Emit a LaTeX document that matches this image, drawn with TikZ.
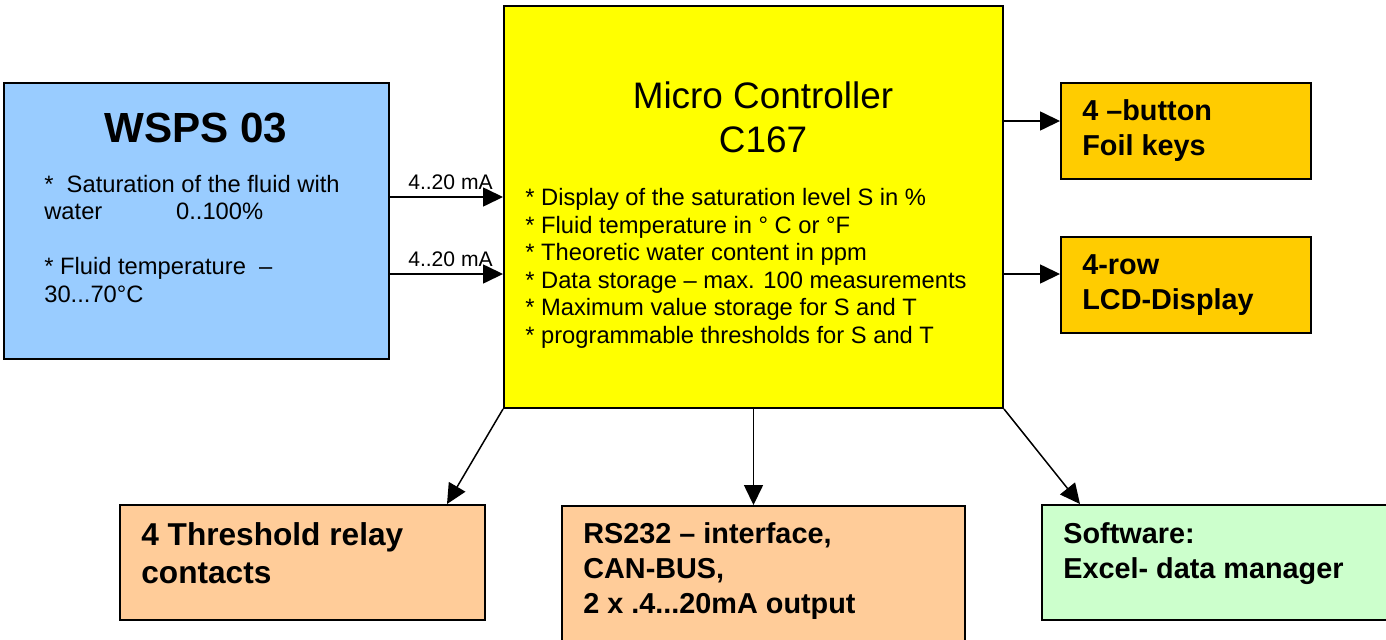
\documentclass[tikz,border=0pt]{standalone}
\usepackage{fontspec}
\setmainfont{Liberation Sans}
\usepackage{tikz}
\usetikzlibrary{arrows.meta, fit}
\definecolor{sensorblue}{RGB}{153,204,255}
\definecolor{mcuyellow}{RGB}{255,255,0}
\definecolor{hmiorange}{RGB}{255,204,0}
\definecolor{outpeach}{RGB}{255,204,153}
\definecolor{softgreen}{RGB}{204,255,204}

\begin{document}
\begin{tikzpicture}[x=0.02cm, y=-0.02cm, inner sep=0pt, font=\fontsize{13.5}{15.6}\selectfont,
  box/.style={draw, line width=1.1pt, inner sep=0pt},
  arr/.style={line width=0.85pt, -{Triangle[length=0.4cm, width=0.38cm]}},
  big/.style={font=\bfseries\fontsize{16.4}{19.8}\selectfont, anchor=base west, align=left}]
  \clip (0,0) rectangle (1386,639);
  \node[box, fill=sensorblue, fit={(4,83) (389,359)}] (wsps) {};
  \node[box, fill=mcuyellow, fit={(504,6) (1003,408)}] (mcu) {};
  \node[box, fill=hmiorange, fit={(1061,83) (1311,179)}] (keys) {};
  \node[box, fill=hmiorange, fit={(1061,237) (1311,333)}] (lcd) {};
  \node[box, fill=outpeach, fit={(120,505) (485,620)}] (relay) {};
  \node[box, fill=outpeach, fit={(562,506) (965,660)}] (rs) {};
  \node[box, fill=softgreen, fit={(1042,505) (1420,620)}] (soft) {};

  \node[anchor=base, font=\bfseries\fontsize{24}{28}\selectfont] (wspstitle) at (196,142) {WSPS 03};
  \node[anchor=base west, align=left] (wspstext) at (44,302) {*\ \ Saturation of the fluid with\\ water\hspace{42pt}0..100\%\\[15.6pt] * Fluid temperature\ \ –\\ 30...70°C};
  \node[anchor=base, align=center, font=\fontsize{21}{25}\selectfont] (mcutitle) at (763,152) {Micro Controller\\ C167};
  \node[anchor=base west, align=left] (mcutext) at (525,343) {* Display of the saturation level S in \%\\ * Fluid temperature in ° C or °F\\ * Theoretic water content in ppm\\ * Data storage – max. 100 measurements\\ * Maximum value storage for S and T\\ * programmable thresholds for S and T};
  \node[big] (keystext) at (1082,155) {4 –button\\ Foil keys};
  \node[big] (lcdtext) at (1082,309) {4-row\\ LCD-Display};
  \node[big, font=\bfseries\fontsize{18}{21.5}\selectfont] (relaytext) at (141,583) {4 Threshold relay\\ contacts};
  \node[big] (rstext) at (583,613) {RS232 – interface,\\ CAN-BUS,\\ 2 x .4...20mA output};
  \node[big] (softtext) at (1063,578) {Software:\\ Excel- data manager};

  \draw[arr] (wsps.east |- 0,197) -- (mcu.west |- 0,197); \draw[arr] (wsps.east |- 0,274) -- (mcu.west |- 0,274);
  \node[anchor=base east, font=\fontsize{12}{14}\selectfont] (satlbl) at (493,189) {4..20 mA};
  \node[anchor=base east, font=\fontsize{12}{14}\selectfont] (templbl) at (493,266) {4..20 mA};
  \draw[arr] (mcu.east |- 0,121) -- (keys.west |- 0,121); \draw[arr] (mcu.east |- 0,274) -- (lcd.west |- 0,274);
  \draw[arr] (mcu.south west) -- (relay.north -| 447,0);
  \draw[arr] (mcu.south) -- (mcu.south |- rs.north);
  \draw[arr] (mcu.south east) -- (soft.north -| 1080,0);
\end{tikzpicture}
\end{document}
